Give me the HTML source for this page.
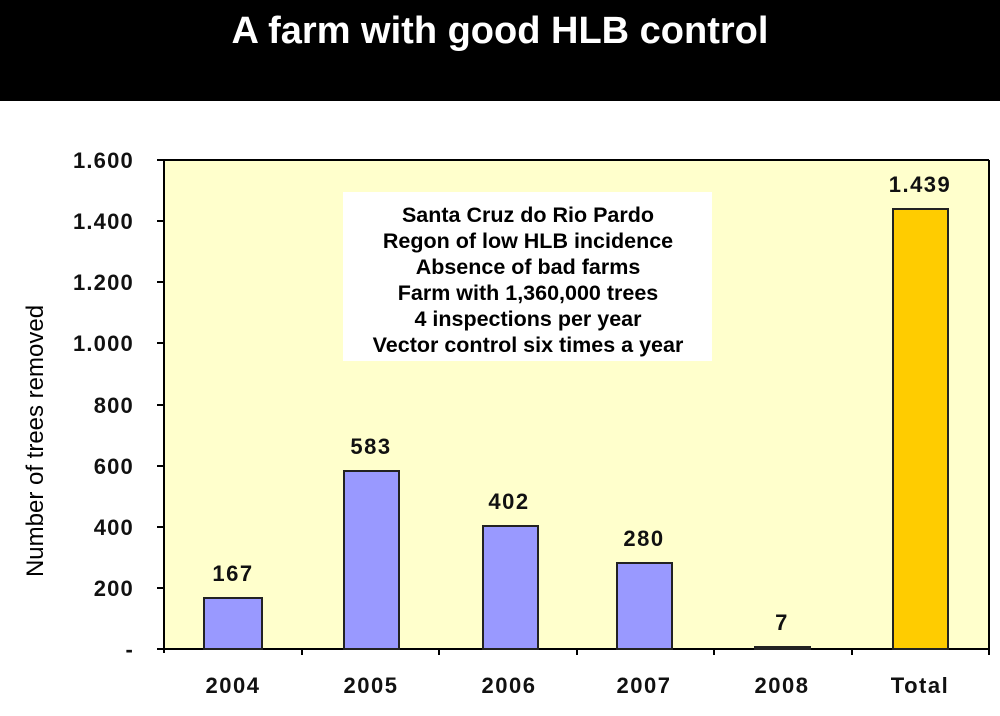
<!DOCTYPE html>
<html><head><style>body{margin:0;background:#fff}svg{display:block}</style></head><body>
<svg width="1000" height="716" xmlns="http://www.w3.org/2000/svg" font-family="Liberation Sans, sans-serif">
<rect x="0" y="0" width="1000" height="101" fill="#000"/>
<text x="500" y="43" fill="#fff" font-size="38" font-weight="bold" text-anchor="middle">A farm with good HLB control</text>
<rect x="164" y="160" width="825" height="489" fill="#FFFFCC"/>
<g stroke="#000" stroke-width="2" fill="none">
<line x1="989" y1="160" x2="989" y2="655"/>
<line x1="164" y1="160" x2="989" y2="160"/>
<line x1="164" y1="160" x2="164" y2="653"/>
<line x1="157" y1="649" x2="989" y2="649"/>
<line x1="157" y1="160" x2="164" y2="160"/><line x1="157" y1="221" x2="164" y2="221"/><line x1="157" y1="282" x2="164" y2="282"/><line x1="157" y1="343" x2="164" y2="343"/><line x1="157" y1="405" x2="164" y2="405"/><line x1="157" y1="466" x2="164" y2="466"/><line x1="157" y1="527" x2="164" y2="527"/><line x1="157" y1="588" x2="164" y2="588"/>
<line x1="302" y1="649" x2="302" y2="655"/><line x1="439" y1="649" x2="439" y2="655"/><line x1="577" y1="649" x2="577" y2="655"/><line x1="714" y1="649" x2="714" y2="655"/><line x1="852" y1="649" x2="852" y2="655"/>
</g>
<g font-size="22" font-weight="bold" text-anchor="end" fill="#111" letter-spacing="1.2">
<text x="134" y="168">1.600</text><text x="134" y="229">1.400</text><text x="134" y="290">1.200</text><text x="134" y="351">1.000</text><text x="134" y="413">800</text><text x="134" y="474">600</text><text x="134" y="535">400</text><text x="134" y="596">200</text><text x="134" y="657">-</text>
</g>
<text transform="translate(43,441) rotate(-90)" font-size="24" text-anchor="middle" fill="#000">Number of trees removed</text>
<g stroke="#222" stroke-width="2">
<rect x="204" y="598" width="58" height="51" fill="#9999FF"/>
<rect x="344" y="471" width="55" height="178" fill="#9999FF"/>
<rect x="483" y="526" width="55" height="123" fill="#9999FF"/>
<rect x="617" y="563" width="55" height="86" fill="#9999FF"/>
<rect x="755" y="647" width="55" height="2" fill="#9999FF"/>
<rect x="893" y="209" width="55" height="440" fill="#FFCC00"/>
</g>
<g font-size="22" font-weight="bold" text-anchor="middle" fill="#111" letter-spacing="1.5">
<text x="233" y="581">167</text><text x="371" y="454">583</text><text x="509" y="509">402</text><text x="644" y="546">280</text><text x="782" y="630">7</text><text x="920" y="192">1.439</text>
<text x="233" y="693">2004</text><text x="371" y="693">2005</text><text x="509" y="693">2006</text><text x="644" y="693">2007</text><text x="782" y="693">2008</text><text x="920" y="693">Total</text>
</g>
<rect x="343" y="192" width="369" height="169" fill="#fff"/>
<g font-size="21.5" font-weight="bold" text-anchor="middle" fill="#000">
<text x="528" y="222">Santa Cruz do Rio Pardo</text>
<text x="528" y="248">Regon of low HLB incidence</text>
<text x="528" y="274">Absence of bad farms</text>
<text x="528" y="300">Farm with 1,360,000 trees</text>
<text x="528" y="326">4 inspections per year</text>
<text x="528" y="352">Vector control six times a year</text>
</g>
</svg>
</body></html>
